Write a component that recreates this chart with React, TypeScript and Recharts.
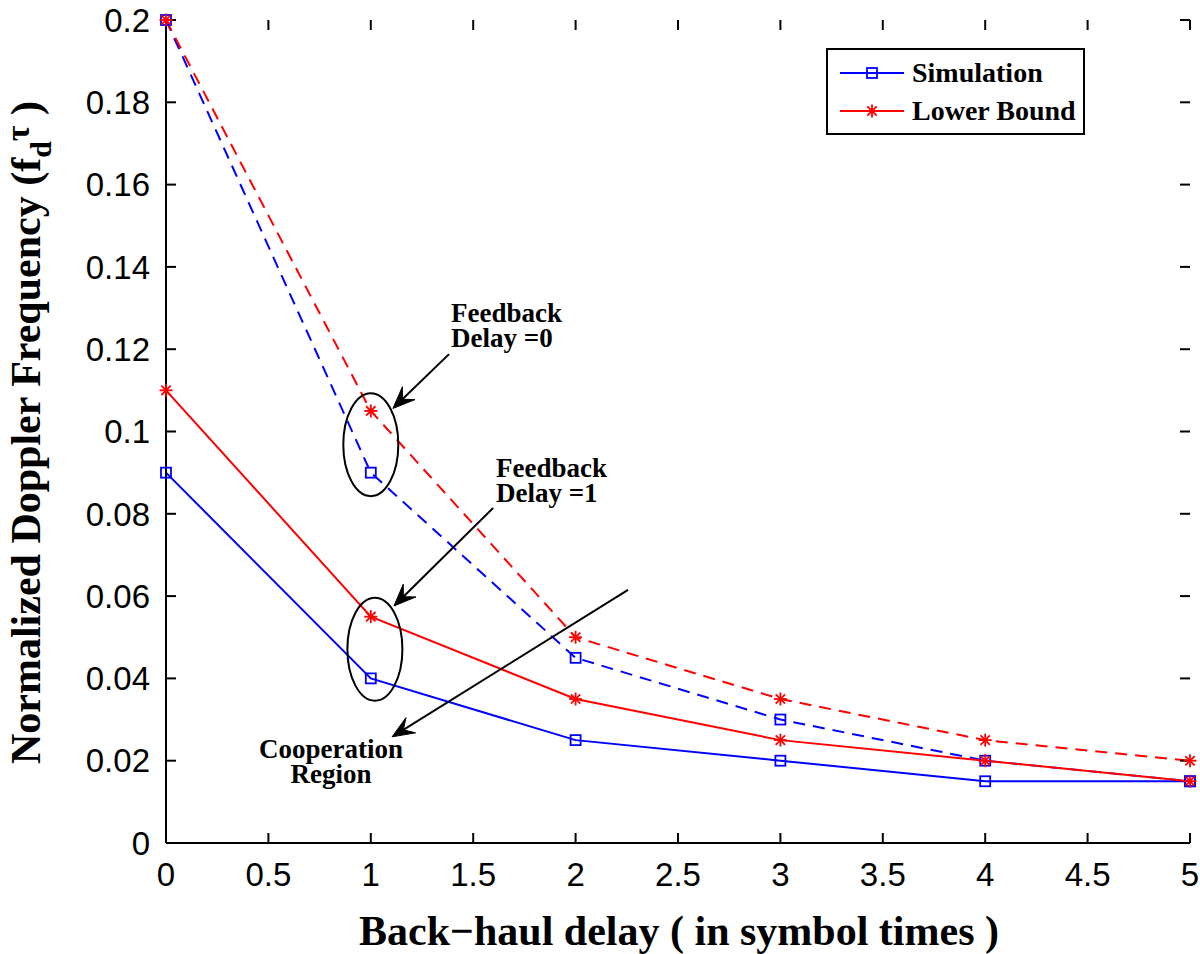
import React from 'react';
import {
  LineChart,
  Line,
  XAxis,
  YAxis,
  Legend,
  Label,
  ReferenceDot,
  ReferenceLine,
} from 'recharts';

// back-haul delay (symbol times)
const delays = [0, 1, 2, 3, 4, 5];
// feedback delay = 0 (dashed)
const simDelay0 = [0.2, 0.09, 0.045, 0.03, 0.02, 0.015];
const lbDelay0 = [0.2, 0.105, 0.05, 0.035, 0.025, 0.02];
// feedback delay = 1 (solid)
const simDelay1 = [0.09, 0.04, 0.025, 0.02, 0.015, 0.015];
const lbDelay1 = [0.11, 0.055, 0.035, 0.025, 0.02, 0.015];

const xTicks = [0, 0.5, 1, 1.5, 2, 2.5, 3, 3.5, 4, 4.5, 5];
const yTicks = [0, 0.02, 0.04, 0.06, 0.08, 0.1, 0.12, 0.14, 0.16, 0.18, 0.2];
const xDomain = [0, 5];
const yDomain = [0, 0.2];

// annotations, in data units
const ellipses = [
  { x: 1.0, y: 0.0968 },
  { x: 1.02, y: 0.0471 },
];
const arrows = [
  { from: { x: 1.382, y: 0.1188 }, to: { x: 1.108, y: 0.1056 } },
  { from: { x: 1.597, y: 0.0814 }, to: { x: 1.113, y: 0.0576 } },
  { from: { x: 2.256, y: 0.0615 }, to: { x: 1.104, y: 0.0258 } },
];
const notes = [
  { x: 1.392, y: 0.1266, text: 'Feedback', anchor: 'start' },
  { x: 1.392, y: 0.1205, text: 'Delay =0', anchor: 'start' },
  { x: 1.611, y: 0.0889, text: 'Feedback', anchor: 'start' },
  { x: 1.611, y: 0.0828, text: 'Delay =1', anchor: 'start' },
  { x: 0.806, y: 0.0207, text: 'Cooperation', anchor: 'middle' },
  { x: 0.806, y: 0.0146, text: 'Region', anchor: 'middle' },
];

const data = delays.map((d, i) => ({
  x: d,
  sim0: simDelay0[i],
  lb0: lbDelay0[i],
  sim1: simDelay1[i],
  lb1: lbDelay1[i],
}));

// tick positions on each side of the box, drawn as invisible series whose dots are the inward stubs
const bottomTicks = xTicks.map((t) => ({ x: t, v: yDomain[0] }));
const topTicks = xTicks.map((t) => ({ x: t, v: yDomain[1] }));
const leftTicks = yTicks.map((t) => ({ x: xDomain[0], v: t }));
const rightTicks = yTicks.map((t) => ({ x: xDomain[1], v: t }));

const BLUE = '#0000ff';
const RED = '#ff0000';
const SERIF = '"Liberation Serif", "Times New Roman", serif';
const SANS = '"Liberation Sans", Arial, Helvetica, sans-serif';
const TICK_LEN = 10;

const SquareDot = (props: any) => {
  const { cx, cy, index } = props;
  if (cx == null || cy == null) return <g key={index} />;
  return (
    <rect key={index} x={cx - 5} y={cy - 5} width={10} height={10}
      fill="none" stroke={BLUE} strokeWidth={1.8} />
  );
};

const StarMark = ({ cx, cy }: { cx: number; cy: number }) => {
  const r = 6.5;
  const d = r * 0.72;
  return (
    <g stroke={RED} strokeWidth={1.8}>
      <line x1={cx - r} y1={cy} x2={cx + r} y2={cy} />
      <line x1={cx} y1={cy - r} x2={cx} y2={cy + r} />
      <line x1={cx - d} y1={cy - d} x2={cx + d} y2={cy + d} />
      <line x1={cx - d} y1={cy + d} x2={cx + d} y2={cy - d} />
    </g>
  );
};

const StarDot = (props: any) => {
  const { cx, cy, index } = props;
  if (cx == null || cy == null) return <g key={index} />;
  return <StarMark key={index} cx={cx} cy={cy} />;
};

const stubDot = (dx: number, dy: number) => (props: any) => {
  const { cx, cy, index } = props;
  if (cx == null || cy == null) return <g key={index} />;
  return (
    <line key={index} x1={cx} y1={cy} x2={cx + dx * TICK_LEN} y2={cy + dy * TICK_LEN}
      stroke="#000" strokeWidth={2} />
  );
};

const ArrowShape = (props: any) => {
  const { x1, y1, x2, y2 } = props;
  const dx = x2 - x1;
  const dy = y2 - y1;
  const len = Math.sqrt(dx * dx + dy * dy) || 1;
  const ux = dx / len;
  const uy = dy / len;
  const nx = -uy;
  const ny = ux;
  const L = 22;
  const W = 9;
  const bx = x2 - ux * L;
  const by = y2 - uy * L;
  const notchX = x2 - ux * L * 0.6;
  const notchY = y2 - uy * L * 0.6;
  const pts = [
    `${x2},${y2}`,
    `${bx + nx * W},${by + ny * W}`,
    `${notchX},${notchY}`,
    `${bx - nx * W},${by - ny * W}`,
  ].join(' ');
  return (
    <g>
      <line x1={x1} y1={y1} x2={notchX} y2={notchY} stroke="#000" strokeWidth={2} />
      <polygon points={pts} fill="#000" stroke="#000" strokeWidth={1} />
    </g>
  );
};

const LegendBox = () => (
  <div
    style={{
      width: 255,
      height: 83,
      border: '2px solid #000',
      background: '#fff',
      boxSizing: 'content-box',
    }}
  >
    <svg width={255} height={83} style={{ display: 'block' }}>
      <line x1={12} y1={23} x2={76} y2={23} stroke={BLUE} strokeWidth={2} />
      <rect x={39} y={18} width={10} height={10} fill="none" stroke={BLUE} strokeWidth={1.8} />
      <text x={84} y={32} fontFamily={SERIF} fontWeight="bold" fontSize={28} fill="#000">
        Simulation
      </text>
      <line x1={12} y1={61} x2={76} y2={61} stroke={RED} strokeWidth={2} />
      <StarMark cx={44} cy={61} />
      <text x={84} y={70} fontFamily={SERIF} fontWeight="bold" fontSize={28} fill="#000">
        Lower Bound
      </text>
    </svg>
  </div>
);

const XTitle = (props: any) => {
  const { viewBox } = props;
  const cx = viewBox.x + viewBox.width / 2 + 1;
  return (
    <text x={cx} y={viewBox.y + 102} textAnchor="middle" fontFamily={SERIF}
      fontWeight="bold" fontSize={42} fill="#000">
      Back−haul delay ( in symbol times )
    </text>
  );
};

const YTitle = (props: any) => {
  const { viewBox } = props;
  const x = viewBox.x + 40;
  const y = viewBox.y + viewBox.height / 2 + 1;
  return (
    <text x={x} y={y} transform={`rotate(-90, ${x}, ${y})`} textAnchor="middle"
      fontFamily={SERIF} fontWeight="bold" fontSize={42} fill="#000">
      Normalized Doppler Frequency (f
      <tspan dy={11} fontSize={30}>d</tspan>
      <tspan dy={-22} fontSize={34}>τ</tspan>
      <tspan dy={11}> )</tspan>
    </text>
  );
};

const axisStroke = { stroke: '#000', strokeWidth: 2 };
const tickStyle = { fontFamily: SANS, fontSize: 33, fill: '#000' };

export default function App() {
  return (
    <div style={{ position: 'absolute', left: 0, top: 0, background: '#fff' }}>
      <LineChart
        width={1200}
        height={954}
        data={data}
        margin={{ top: 20, right: 10, bottom: 0, left: 0 }}
      >
        <XAxis
          type="number"
          dataKey="x"
          domain={xDomain}
          ticks={xTicks}
          interval={0}
          height={111}
          tickSize={0}
          tickMargin={20}
          tick={tickStyle}
          axisLine={axisStroke}
          tickLine={false}
          allowDuplicatedCategory={false}
          label={<Label content={<XTitle />} />}
        />
        <XAxis
          xAxisId="top"
          orientation="top"
          type="number"
          domain={xDomain}
          ticks={xTicks}
          height={0}
          tick={false}
          axisLine={axisStroke}
          tickLine={false}
        />
        <YAxis
          type="number"
          domain={yDomain}
          ticks={yTicks}
          interval={0}
          width={166}
          tickSize={0}
          tickMargin={16}
          tick={tickStyle}
          axisLine={axisStroke}
          tickLine={false}
          label={<Label content={<YTitle />} />}
        />
        <YAxis
          yAxisId="right"
          orientation="right"
          type="number"
          domain={yDomain}
          ticks={yTicks}
          width={0}
          tick={false}
          axisLine={axisStroke}
          tickLine={false}
        />

        {/* inward tick stubs */}
        <Line data={bottomTicks} dataKey="v" stroke="none" legendType="none"
          dot={stubDot(0, -1)} activeDot={false} isAnimationActive={false} />
        <Line data={topTicks} dataKey="v" stroke="none" legendType="none"
          dot={stubDot(0, 1)} activeDot={false} isAnimationActive={false} />
        <Line data={leftTicks} dataKey="v" stroke="none" legendType="none"
          dot={stubDot(1, 0)} activeDot={false} isAnimationActive={false} />
        <Line data={rightTicks} dataKey="v" stroke="none" legendType="none"
          dot={stubDot(-1, 0)} activeDot={false} isAnimationActive={false} />

        <Line type="linear" dataKey="sim0" stroke={BLUE} strokeWidth={2}
          strokeDasharray="12 8" dot={SquareDot} activeDot={false} isAnimationActive={false} />
        <Line type="linear" dataKey="lb0" stroke={RED} strokeWidth={2}
          strokeDasharray="12 8" dot={StarDot} activeDot={false} isAnimationActive={false} />
        <Line type="linear" dataKey="sim1" name="Simulation" stroke={BLUE} strokeWidth={2}
          dot={SquareDot} activeDot={false} isAnimationActive={false} />
        <Line type="linear" dataKey="lb1" name="Lower Bound" stroke={RED} strokeWidth={2}
          dot={StarDot} activeDot={false} isAnimationActive={false} />

        {ellipses.map((e, i) => (
          <ReferenceDot
            key={`ell-${i}`}
            x={e.x}
            y={e.y}
            r={1}
            ifOverflow="visible"
            shape={(p: any) => (
              <ellipse cx={p.cx} cy={p.cy} rx={27.5} ry={51.5}
                fill="none" stroke="#000" strokeWidth={2} />
            )}
          />
        ))}
        {arrows.map((a, i) => (
          <ReferenceLine
            key={`arr-${i}`}
            segment={[a.from, a.to]}
            ifOverflow="visible"
            shape={ArrowShape}
          />
        ))}
        {notes.map((n, i) => (
          <ReferenceDot
            key={`note-${i}`}
            x={n.x}
            y={n.y}
            r={1}
            ifOverflow="visible"
            shape={(p: any) => (
              <text x={p.cx} y={p.cy} textAnchor={n.anchor} fontFamily={SERIF}
                fontWeight="bold" fontSize={27} fill="#000">
                {n.text}
              </text>
            )}
          />
        ))}

        <Legend
          layout="vertical"
          align="center"
          verticalAlign="middle"
          content={() => <LegendBox />}
          wrapperStyle={{ position: 'absolute', left: 826, top: 48, width: 259, height: 87 }}
        />
      </LineChart>
    </div>
  );
}
